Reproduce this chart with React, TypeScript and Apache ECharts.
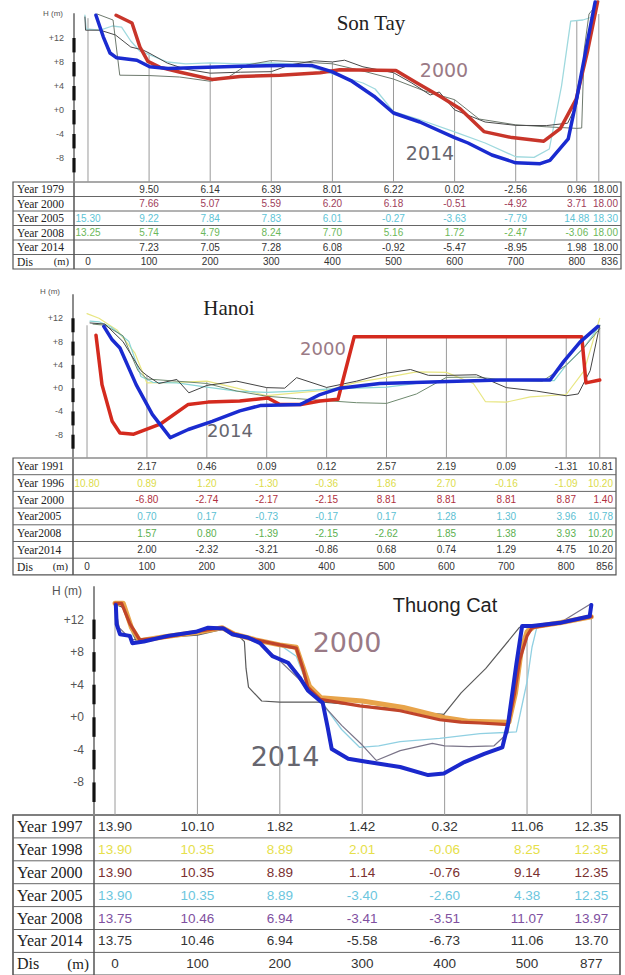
import React, { useEffect, useRef } from "react";
import * as echarts from "echarts";

type Pt = [number, number];
type Cell = number | null;

// ================= Son Tay =================
const sonTayDis = [0, 100, 200, 300, 400, 500, 600, 700, 800, 836];
const sonTayDisLabels = ["0", "100", "200", "300", "400", "500", "600", "700", "800", "836"];
const sonTayRowLabels = ["Year 1979", "Year 2000", "Year 2005", "Year 2008", "Year 2014"];
const sonTayT1979: Cell[] = [null, 9.5, 6.14, 6.39, 8.01, 6.22, 0.02, -2.56, 0.96, 18.0];
const sonTayT2000: Cell[] = [null, 7.66, 5.07, 5.59, 6.2, 6.18, -0.51, -4.92, 3.71, 18.0];
const sonTayT2005: Cell[] = [15.3, 9.22, 7.84, 7.83, 6.01, -0.27, -3.63, -7.79, 14.88, 18.3];
const sonTayT2008: Cell[] = [13.25, 5.74, 4.79, 8.24, 7.7, 5.16, 1.72, -2.47, -3.06, 18.0];
const sonTayT2014: Cell[] = [null, 7.23, 7.05, 7.28, 6.08, -0.92, -5.47, -8.95, 1.98, 18.0];

const sonTayP1979: Pt[] = [[-5, 15.5], [-4, 13.3], [20, 13.3], [45, 12.5], [70, 10.5], [90, 10], [100, 9.5], [130, 7.8], [160, 6.8], [200, 6.14], [250, 6.3], [300, 6.39], [330, 7.5], [370, 8.2], [400, 8.01], [420, 8.3], [450, 7.2], [500, 6.22], [530, 4.5], [560, 2.5], [575, 3.0], [585, 1.8], [600, 0.02], [650, -2], [700, -2.56], [750, -2.6], [785, -2.2], [800, 0.96], [815, 10], [830, 18]];
const sonTayP2005: Pt[] = [[-5, 15.8], [-3, 13.5], [20, 13.3], [40, 14], [55, 13.8], [70, 11.5], [85, 9.8], [100, 9.22], [130, 8], [160, 7.7], [200, 7.84], [250, 7.7], [300, 7.83], [350, 7.6], [400, 6.01], [450, 4.5], [470, 3.5], [500, -0.27], [540, -1.5], [600, -3.63], [650, -5.5], [700, -7.79], [730, -7.9], [755, -6.5], [775, 4], [790, 14.8], [810, 15], [825, 15.5], [836, 18.3]];
const sonTayP2008: Pt[] = [[15, 16], [41, 15], [52, 5.8], [100, 5.74], [150, 5.5], [200, 4.79], [230, 5.5], [260, 7.5], [300, 8.24], [350, 8.0], [400, 7.7], [450, 6.5], [500, 5.16], [550, 3.2], [600, 1.72], [640, -1.5], [700, -2.47], [750, -2.8], [800, -3.06], [808, -3.0], [812, 10], [820, 16], [836, 18]];
const sonTayP2000: Pt[] = [[46, 15.8], [72, 14.5], [85, 10.5], [98, 8.1], [118, 7.1], [151, 6.3], [203, 5.1], [249, 5.6], [314, 5.8], [380, 6.2], [412, 6.7], [504, 6.6], [537, 4.6], [576, 2.3], [609, 0.2], [648, -3.6], [694, -4.6], [746, -5.2], [773, -3.1], [799, 1.8], [818, 10], [834, 18]];
const sonTayP2014: Pt[] = [[13, 15.8], [25, 12.2], [36, 9.5], [47, 8.7], [80, 8.3], [101, 7.2], [131, 6.9], [183, 7.1], [249, 7.3], [314, 7.4], [367, 7.4], [399, 6.4], [432, 4.8], [468, 2.3], [500, -0.5], [543, -2], [600, -4.6], [622, -5.5], [661, -7.5], [700, -8.8], [740, -8.95], [756, -8.4], [786, -4.8], [800, 1.98], [818, 11.7], [830, 18]];

// ================= Hanoi =================
const hanoiDis = [0, 100, 200, 300, 400, 500, 600, 700, 800, 856];
const hanoiDisLabels = ["0", "100", "200", "300", "400", "500", "600", "700", "800", "856"];
const hanoiRowLabels = ["Year 1991", "Year 1996", "Year 2000", "Year2005", "Year2008", "Year2014"];
const hanoiT1991: Cell[] = [null, 2.17, 0.46, 0.09, 0.12, 2.57, 2.19, 0.09, -1.31, 10.81];
const hanoiT1996: Cell[] = [10.8, 0.89, 1.2, -1.3, -0.36, 1.86, 2.7, -0.16, -1.09, 10.2];
const hanoiT2000: Cell[] = [null, -6.8, -2.74, -2.17, -2.15, 8.81, 8.81, 8.81, 8.87, 1.4];
const hanoiT2005: Cell[] = [null, 0.7, 0.17, -0.73, -0.17, 0.17, 1.28, 1.3, 3.96, 10.78];
const hanoiT2008: Cell[] = [null, 1.57, 0.8, -1.39, -2.15, -2.62, 1.85, 1.38, 3.93, 10.2];
const hanoiT2014: Cell[] = [null, 2.0, -2.32, -3.21, -0.86, 0.68, 0.74, 1.29, 4.75, 10.2];

const hanoiP1991: Pt[] = [[5, 11.2], [30, 11], [60, 8], [90, 3], [100, 2.17], [120, 0.8], [150, 1.5], [170, -0.8], [200, 0.46], [250, 1.2], [300, 0.09], [330, 0], [350, 1.8], [400, 0.12], [450, 1.2], [500, 2.57], [540, 3.2], [570, 2.2], [600, 2.19], [650, 2.3], [700, 0.09], [750, -0.5], [800, -1.31], [820, -1.0], [840, 3], [856, 10.81]];
const hanoiP1996: Pt[] = [[0, 12.8], [20, 12], [50, 10], [80, 6], [100, 0.89], [150, 1.0], [200, 1.2], [250, 0], [300, -1.3], [350, -0.8], [400, -0.36], [450, 1.0], [500, 1.86], [550, 2.8], [600, 2.7], [645, 0.8], [665, -2.3], [700, -2.4], [740, -1.5], [800, -1.09], [830, 3], [856, 12]];
const hanoiP2005: Pt[] = [[5, 11.5], [20, 11.4], [40, 10.5], [70, 8], [90, 2], [110, 1.0], [150, 0.9], [200, 0.17], [250, -0.5], [300, -0.73], [350, -0.5], [400, -0.17], [450, 0], [500, 0.17], [550, 0.8], [600, 1.28], [700, 1.3], [780, 1.3], [800, 3.96], [830, 7], [856, 10.78]];
const hanoiP2008: Pt[] = [[10, 11], [30, 10.8], [60, 9], [85, 3], [100, 1.57], [150, 1.2], [200, 0.8], [250, -0.5], [300, -1.39], [350, -1.8], [400, -2.15], [450, -2.5], [500, -2.62], [550, -1], [600, 1.85], [650, 1.9], [700, 1.38], [760, 1.2], [800, 3.93], [830, 7], [856, 10.2]];
const hanoiP2000: Pt[] = [[15, 9.1], [25, 0.6], [42, -5.7], [55, -7.7], [78, -7.9], [122, -6.2], [169, -2.8], [202, -2.4], [255, -2.2], [302, -1.7], [322, -2.8], [357, -2.8], [389, -2.2], [419, -1.9], [446, 8.81], [826, 8.81], [833, 0.9], [856, 1.4]];
const hanoiP2014: Pt[] = [[28, 10.6], [42, 8.3], [55, 6.9], [82, 0.6], [109, -4.5], [139, -8.5], [169, -7.1], [209, -5.7], [255, -3.9], [289, -3.0], [356, -2.8], [389, -1.1], [422, 0], [489, 0.8], [589, 1.1], [690, 1.4], [773, 1.4], [796, 4.6], [823, 7.9], [853, 10.6]];

// ================= Thuong Cat =================
// the figure draws its 877 m right bank at about 578 m of its own distance scale
const thuongCatDis = [0, 100, 200, 300, 400, 500, 578];
const thuongCatDisLabels = ["0", "100", "200", "300", "400", "500", "877"];
const thuongCatRowLabels = ["Year 1997", "Year 1998", "Year 2000", "Year 2005", "Year 2008", "Year 2014"];
const thuongCatT1997: Cell[] = [13.9, 10.1, 1.82, 1.42, 0.32, 11.06, 12.35];
const thuongCatT1998: Cell[] = [13.9, 10.35, 8.89, 2.01, -0.06, 8.25, 12.35];
const thuongCatT2000: Cell[] = [13.9, 10.35, 8.89, 1.14, -0.76, 9.14, 12.35];
const thuongCatT2005: Cell[] = [13.9, 10.35, 8.89, -3.4, -2.6, 4.38, 12.35];
const thuongCatT2008: Cell[] = [13.75, 10.46, 6.94, -3.41, -3.51, 11.07, 13.97];
const thuongCatT2014: Cell[] = [13.75, 10.46, 6.94, -5.58, -6.73, 11.06, 13.7];

const thuongCatP1997: Pt[] = [[0, 13.9], [10, 13.5], [25, 9.5], [60, 9.8], [100, 10.1], [130, 10.8], [150, 10], [157, 9.3], [159, 6], [162, 3.7], [178, 2.0], [200, 1.85], [253, 1.85], [300, 1.42], [350, 1.0], [380, 0.5], [399, 0.35], [420, 3], [450, 6], [491, 11.06], [500, 11.06], [540, 11.6], [578, 12.35]];
const thuongCatP2005: Pt[] = [[0, 13.9], [10, 13.5], [22, 10], [30, 9.4], [60, 9.9], [100, 10.35], [130, 11], [145, 10.2], [175, 9.3], [200, 8.89], [220, 7.5], [235, 3.5], [250, 2.0], [275, -1.5], [297, -3.7], [320, -3.5], [346, -3], [394, -2.6], [443, -2.0], [487, -1.8], [495, 2], [500, 4.38], [506, 8.6], [512, 11.1], [540, 11.6], [578, 12.35]];
const thuongCatP2008: Pt[] = [[0, 13.75], [5, 11], [20, 9.5], [60, 9.9], [100, 10.46], [130, 11], [150, 10.2], [175, 9.1], [200, 6.94], [225, 4.5], [250, 1.8], [275, -1], [300, -3.41], [317, -5.3], [346, -4.1], [385, -3.2], [400, -3.51], [430, -3.6], [460, -3.5], [477, -1.9], [487, 5], [494, 11.07], [500, 11.07], [540, 11.6], [578, 13.97]];
const thuongCatP1998: Pt[] = [[0, 14], [10, 14], [20, 11], [30, 9.4], [60, 9.9], [98, 10.4], [130, 11], [145, 10.2], [171, 9.5], [200, 8.89], [220, 8.6], [228, 6.2], [236, 3.8], [250, 2.4], [300, 2.01], [350, 1.2], [400, -0.06], [430, -0.5], [478, -0.6], [486, 3], [493, 8.25], [500, 10.5], [508, 11.1], [540, 11.6], [578, 12.35]];
const thuongCatP2000: Pt[] = [[0, 14], [8, 14], [18, 11.5], [30, 9.5], [60, 9.8], [98, 10.5], [130, 11], [145, 10.2], [171, 9.5], [200, 8.9], [220, 8.5], [228, 6], [234, 3.7], [249, 2.2], [297, 1.4], [346, 0.8], [394, -0.3], [420, -0.6], [443, -0.7], [477, -0.9], [485, 3], [491, 7], [500, 10], [506, 11], [540, 11.6], [578, 12.35]];
const thuongCatP2014: Pt[] = [[1, 13.8], [2, 11.4], [6, 10.2], [18, 10.0], [21, 9.1], [35, 9.3], [64, 10.0], [98, 10.5], [113, 11.0], [132, 10.9], [142, 10.2], [161, 9.8], [176, 9.1], [191, 7.5], [210, 6.7], [224, 4.9], [234, 3.3], [249, 2.0], [252, 1.8], [258, -1.2], [263, -3.9], [283, -5.1], [307, -5.5], [346, -6.1], [380, -7.1], [399, -6.9], [424, -5.5], [448, -4.5], [470, -3.7], [477, -0.8], [487, 6.5], [494, 11.2], [506, 11.2], [540, 11.6], [576, 12.4], [578, 13.8]];

const staffTicks = [12, 8, 4, 0, -4, -8];

// ================= layout / styles =================
const Y_MIN = -12;
const Y_MAX = 16;

interface Profile { data: Pt[]; color: string; width: number; }
interface Panel {
  grid: { left: number; top: number; width: number; height: number };
  xMin: number; xMax: number;
  cols: number[]; colLabels: string[];
  rowLabels: string[]; rows: Cell[][]; rowColors: string[];
  profiles: Profile[];
  table: { left: number; right: number; top: number; rowH: number; labelFont: number; valueFont: number; border: number; lastRight: boolean };
  axisFont: number; hFont: number; hGap: number; hPad: number;
  title: { text: string; x: number; y: number; font: string };
  y2000: { x: number; y: number; size: number };
  y2014: { x: number; y: number; size: number };
}

const panels: Panel[] = [
  {
    grid: { left: 74, top: 14, width: 546, height: 168 },
    xMin: -22.9, xMax: 870.7,
    cols: sonTayDis, colLabels: sonTayDisLabels,
    rowLabels: sonTayRowLabels,
    rows: [sonTayT1979, sonTayT2000, sonTayT2005, sonTayT2008, sonTayT2014],
    rowColors: ["#333", "#a0405a", "#5ec4d6", "#6cb85a", "#333"],
    profiles: [
      { data: sonTayP2005, color: "#9fd9de", width: 1.3 },
      { data: sonTayP2008, color: "#6e7a6e", width: 1 },
      { data: sonTayP1979, color: "#4a4a4a", width: 1 },
      { data: sonTayP2000, color: "#c8352a", width: 3.5 },
      { data: sonTayP2014, color: "#1a2bd0", width: 3.5 },
    ],
    table: { left: 13, right: 621, top: 182, rowH: 14.5, labelFont: 11.5, valueFont: 10, border: 1.2, lastRight: true },
    axisFont: 9, hFont: 8, hGap: 1, hPad: 11,
    title: { text: "Son Tay", x: 371, y: 23, font: '21px "Liberation Serif"' },
    y2000: { x: 444, y: 70, size: 19 },
    y2014: { x: 430, y: 153, size: 19 },
  },
  {
    grid: { left: 73, top: 295, width: 547, height: 163 },
    xMin: -23.4, xMax: 889.8,
    cols: hanoiDis, colLabels: hanoiDisLabels,
    rowLabels: hanoiRowLabels,
    rows: [hanoiT1991, hanoiT1996, hanoiT2000, hanoiT2005, hanoiT2008, hanoiT2014],
    rowColors: ["#333", "#dcdc4a", "#b0303e", "#5cc0d2", "#5cb050", "#333"],
    profiles: [
      { data: hanoiP1996, color: "#e8e682", width: 1.2 },
      { data: hanoiP2005, color: "#8ad6d6", width: 1.2 },
      { data: hanoiP2008, color: "#6f8a6f", width: 1 },
      { data: hanoiP1991, color: "#444", width: 1 },
      { data: hanoiP2000, color: "#d42a1e", width: 3.5 },
      { data: hanoiP2014, color: "#1a2bd0", width: 3.5 },
    ],
    table: { left: 13, right: 616, top: 458, rowH: 16.7, labelFont: 11.5, valueFont: 10, border: 1.2, lastRight: true },
    axisFont: 9, hFont: 8, hGap: 4, hPad: 13,
    title: { text: "Hanoi", x: 229, y: 308, font: '21px "Liberation Serif"' },
    y2000: { x: 323, y: 348, size: 18 },
    y2014: { x: 230, y: 430, size: 18 },
  },
  {
    grid: { left: 94, top: 587, width: 526, height: 228 },
    xMin: -25.5, xMax: 612.8,
    cols: thuongCatDis, colLabels: thuongCatDisLabels,
    rowLabels: thuongCatRowLabels,
    rows: [thuongCatT1997, thuongCatT1998, thuongCatT2000, thuongCatT2005, thuongCatT2008, thuongCatT2014],
    rowColors: ["#333", "#e6e04a", "#7a3030", "#6cc6de", "#8050a0", "#333"],
    profiles: [
      { data: thuongCatP2005, color: "#90d0e2", width: 1.3 },
      { data: thuongCatP2008, color: "#7a7488", width: 1.2 },
      { data: thuongCatP1997, color: "#5a5a5a", width: 1.2 },
      { data: thuongCatP1998, color: "#e8a44a", width: 5 },
      { data: thuongCatP2000, color: "#c0442a", width: 3.2 },
      { data: thuongCatP2014, color: "#1a28cc", width: 4 },
    ],
    table: { left: 13, right: 620, top: 815, rowH: 22.9, labelFont: 16, valueFont: 13.5, border: 1.6, lastRight: false },
    axisFont: 12, hFont: 12, hGap: -4, hPad: 12,
    title: { text: "Thuong Cat", x: 445, y: 605, font: '20px "Liberation Sans"' },
    y2000: { x: 347, y: 642, size: 27 },
    y2014: { x: 285, y: 756, size: 27 },
  },
];

function fmtVal(v: number): string {
  return v.toFixed(2);
}

function buildOption() {
  const grid: any[] = [];
  const xAxis: any[] = [];
  const yAxis: any[] = [];
  const series: any[] = [];
  panels.forEach((P, i) => {
    grid.push({ ...P.grid, containLabel: false });
    xAxis.push({
      gridIndex: i, type: "value", min: P.xMin, max: P.xMax,
      show: false, splitLine: { show: false },
    });
    yAxis.push({
      gridIndex: i, type: "value", min: Y_MIN, max: Y_MAX, interval: 4, position: "left",
      axisLine: { show: true, onZero: false, lineStyle: { color: "#8c8c8c", width: 2 } },
      axisTick: { show: false },
      splitLine: { show: false },
      axisLabel: {
        color: "#555", fontSize: P.axisFont, fontFamily: "Liberation Sans", margin: 10,
        formatter: (v: number) => (v < -8 || v > 12 ? "" : v >= 0 ? "+" + v : String(v)),
      },
      name: "H (m)", nameLocation: "end", nameGap: P.hGap,
      nameTextStyle: { color: "#555", fontSize: P.hFont, fontFamily: "Liberation Sans", align: "right", verticalAlign: "middle", padding: [0, P.hPad, 0, 0] },
    });
    // vertical section lines, from the highest tabulated level down to the table
    const tops = P.cols.map((d, k) => {
      const vals = P.rows.map((r) => r[k]).filter((v): v is number => v !== null);
      return [d, Math.min(Math.max(...vals), Y_MAX)];
    });
    series.push({
      type: "custom", xAxisIndex: i, yAxisIndex: i, silent: true, z: 1,
      data: tops,
      renderItem: (_p: any, api: any) => {
        const a = api.coord([api.value(0), api.value(1)]);
        const b = api.coord([api.value(0), Y_MIN]);
        return { type: "line", shape: { x1: a[0], y1: a[1], x2: b[0], y2: b[1] }, style: { stroke: "#9a9a9a", lineWidth: 1 } };
      },
    });
    // staff-like black bars on the height axis
    series.push({
      type: "custom", xAxisIndex: i, yAxisIndex: i, silent: true, z: 6,
      data: staffTicks.map((h) => [P.xMin, h]),
      renderItem: (_p: any, api: any) => {
        const a = api.coord([api.value(0), api.value(1)]);
        const b = api.coord([api.value(0), api.value(1) - 2.4]);
        return { type: "rect", shape: { x: a[0] - 1.6, y: a[1], width: 3.2, height: b[1] - a[1] }, style: { fill: "#111" } };
      },
    });
    P.profiles.forEach((pr, k) => {
      series.push({
        type: "line", xAxisIndex: i, yAxisIndex: i, data: pr.data,
        symbol: "none", showSymbol: false, silent: true, clip: false, z: 2 + k * 0.1,
        lineStyle: { color: pr.color, width: pr.width, cap: "round", join: "round" },
      });
    });
  });
  return { animation: false, backgroundColor: "#ffffff", grid, xAxis, yAxis, series };
}

function buildGraphics(chart: any) {
  const els: any[] = [];
  panels.forEach((P, i) => {
    const T = P.table;
    const nRows = P.rows.length + 1;
    const bottom = T.top + nRows * T.rowH;
    const divider = P.grid.left;
    els.push({ type: "rect", silent: true, shape: { x: T.left, y: T.top, width: T.right - T.left, height: bottom - T.top }, style: { fill: "#fff", stroke: "#555", lineWidth: T.border } });
    for (let k = 1; k < nRows; k++) {
      const y = T.top + k * T.rowH;
      els.push({ type: "line", silent: true, shape: { x1: T.left, y1: y, x2: T.right, y2: y }, style: { stroke: "#666", lineWidth: 1 } });
    }
    els.push({ type: "line", silent: true, shape: { x1: divider, y1: T.top, x2: divider, y2: bottom }, style: { stroke: "#555", lineWidth: 1.5 } });
    const colX = P.cols.map((d) => chart.convertToPixel({ gridIndex: i }, [d, 0])[0]);
    const last = P.cols.length - 1;
    const cellPos = (c: number) =>
      T.lastRight && c === last ? { x: T.right - 3, align: "right" } : { x: colX[c], align: "center" };
    P.rows.forEach((row, r) => {
      const cy = T.top + (r + 0.5) * T.rowH;
      els.push({ type: "text", silent: true, x: T.left + 4, y: cy, style: { text: P.rowLabels[r], fill: "#222", font: `${T.labelFont}px "Liberation Serif"`, textAlign: "left", textVerticalAlign: "middle" } });
      row.forEach((v, c) => {
        if (v === null) return;
        const pos = cellPos(c);
        els.push({ type: "text", silent: true, x: pos.x, y: cy, style: { text: fmtVal(v), fill: P.rowColors[r], font: `${T.valueFont}px "Liberation Sans"`, textAlign: pos.align, textVerticalAlign: "middle" } });
      });
    });
    const dy = T.top + (nRows - 0.5) * T.rowH;
    els.push({ type: "text", silent: true, x: T.left + 4, y: dy, style: { text: "Dis", fill: "#222", font: `${T.labelFont}px "Liberation Serif"`, textAlign: "left", textVerticalAlign: "middle" } });
    els.push({ type: "text", silent: true, x: divider - 5, y: dy, style: { text: "(m)", fill: "#222", font: `${T.labelFont - 1}px "Liberation Serif"`, textAlign: "right", textVerticalAlign: "middle" } });
    P.colLabels.forEach((lab, c) => {
      const pos = cellPos(c);
      els.push({ type: "text", silent: true, x: pos.x, y: dy, style: { text: lab, fill: "#333", font: `${T.valueFont}px "Liberation Sans"`, textAlign: pos.align, textVerticalAlign: "middle" } });
    });
    // in-chart labels
    els.push({ type: "text", silent: true, x: P.title.x, y: P.title.y, style: { text: P.title.text, fill: "#222", font: P.title.font, textAlign: "center", textVerticalAlign: "middle" } });
    els.push({ type: "text", silent: true, x: P.y2000.x, y: P.y2000.y, style: { text: "2000", fill: "#9a7a86", font: `${P.y2000.size}px "DejaVu Sans"`, textAlign: "center", textVerticalAlign: "middle" } });
    els.push({ type: "text", silent: true, x: P.y2014.x, y: P.y2014.y, style: { text: "2014", fill: "#66666f", font: `${P.y2014.size}px "DejaVu Sans"`, textAlign: "center", textVerticalAlign: "middle" } });
  });
  return els;
}

export default function App() {
  const ref = useRef<HTMLDivElement>(null);
  useEffect(() => {
    if (!ref.current) return;
    const chart = echarts.init(ref.current, null, { renderer: "svg" });
    chart.setOption(buildOption());
    chart.setOption({ graphic: buildGraphics(chart) });
    return () => chart.dispose();
  }, []);
  return (
    <div
      ref={ref}
      style={{ position: "absolute", left: 0, top: 0, width: 625, height: 975, background: "#fff" }}
    />
  );
}
